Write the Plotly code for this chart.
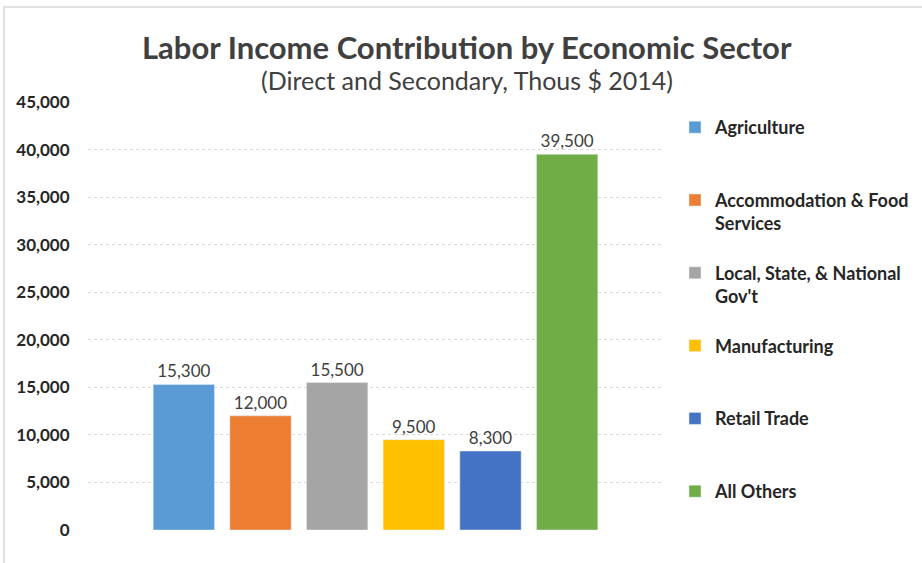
import plotly.graph_objects as go

sectors = ["Agriculture", "Accommodation & Food<br>Services", "Local, State, & National<br>Gov't",
           "Manufacturing", "Retail Trade", "All Others"]
values = [15300, 12000, 15500, 9500, 8300, 39500]
colors = ["#5B9BD5", "#ED7D31", "#A5A5A5", "#FFC000", "#4472C4", "#70AD47"]
category = ["Sector"]
y_ticks = list(range(0, 45001, 5000))

fig = go.Figure()
for i, (name, v, c) in enumerate(zip(sectors, values, colors)):
    label = name if "<br>" in name else name + "<br> "
    fig.add_trace(go.Bar(
        x=category, y=[v], name=label, marker_color=c, legendgroup=str(i),
        text=[f"{v:,}"], textposition="outside", cliponaxis=False,
        textfont=dict(family="Lato, Open Sans, sans-serif", size=17, color="#404040"),
    ))

fig.update_layout(
    width=922, height=563,
    margin=dict(l=88, r=259, t=102, b=33, autoexpand=False),
    paper_bgcolor="white", plot_bgcolor="white",
    barmode="group", bargap=0.2, bargroupgap=0.2,
    showlegend=True,
    legend=dict(xref="container", yref="container", x=675/922, y=1 - 109/563,
                xanchor="left", yanchor="top", valign="top", maxheight=460,
                font=dict(family="Lato, Open Sans, sans-serif", size=18, color="#262626", weight="bold"),
                tracegroupgap=23, itemwidth=30, traceorder="grouped"),
    font=dict(family="Lato, Open Sans, sans-serif"),
)
fig.update_xaxes(showticklabels=False, showgrid=False, zeroline=False, showline=False)
fig.update_yaxes(range=[0, 45000], tickvals=y_ticks, ticktext=[f"{t:,}" for t in y_ticks],
                 showgrid=True, gridcolor="#D9D9D9", griddash="dot", gridwidth=1,
                 zeroline=False, showline=False,
                 ticks="outside", ticklen=14, tickcolor="rgba(0,0,0,0)",
                 tickfont=dict(family="Lato, Open Sans, sans-serif", size=17, color="#262626", weight="bold"))

fig.add_annotation(text="<b>Labor Income Contribution by Economic Sector</b>",
                   xref="paper", yref="paper", x=(467-88)/575, y=1 + (102-47)/428,
                   xanchor="center", yanchor="middle", showarrow=False,
                   font=dict(family="Lato, Open Sans, sans-serif", size=31, color="#404040"))
fig.add_annotation(text="(Direct and Secondary, Thous $ 2014)",
                   xref="paper", yref="paper", x=(467-88)/575, y=1 + (102-80)/428,
                   xanchor="center", yanchor="middle", showarrow=False,
                   font=dict(family="Lato, Open Sans, sans-serif", size=25, color="#404040"))

fig.add_shape(type="rect", xref="paper", yref="paper",
              x0=(4-88)/575, x1=(930-88)/575, y0=-(570-530)/428, y1=1 + (102-7)/428,
              line=dict(color="#D9D9D9", width=1.5), fillcolor="rgba(0,0,0,0)", layer="below")

fig.write_html("out.html")
